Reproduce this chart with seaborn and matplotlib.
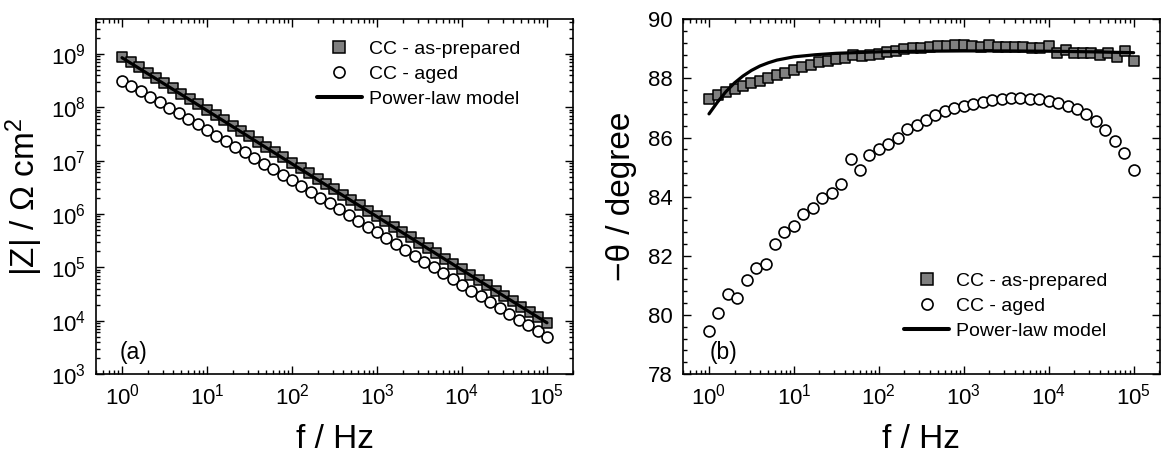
import numpy as np
import pandas as pd
import matplotlib
matplotlib.use("Agg")
import matplotlib.pyplot as plt
from matplotlib.ticker import MultipleLocator, AutoMinorLocator, LogLocator, NullFormatter
from matplotlib.lines import Line2D
import seaborn as sns

# ---------------- data ----------------
freq_prepared = [1, 1.26, 1.58, 2.00, 2.51, 3.16, 3.98, 5.01, 6.31, 7.94,
                 10, 12.6, 15.8, 20.0, 25.1, 31.6, 39.8, 50.1, 63.1, 79.4,
                 100, 126, 158, 200, 251, 316, 398, 501, 631, 794,
                 1000, 1259, 1585, 1995, 2512, 3162, 3981, 5012, 6310, 7943,
                 10000, 12589, 15849, 19953, 25119, 31623, 39811, 50119, 63096, 79433,
                 100000]
freq_aged = [1, 1.29, 1.67, 2.15, 2.78, 3.59, 4.64, 5.99, 7.74,
             10, 12.9, 16.7, 21.5, 27.8, 35.9, 46.4, 59.9, 77.4,
             100, 129, 167, 215, 278, 359, 464, 599, 774,
             1000, 1292, 1668, 2154, 2783, 3594, 4642, 5995, 7743,
             10000, 12915, 16681, 21544, 27826, 35938, 46416, 59948, 77426,
             100000]

# log10 |Z| (Ohm cm^2)
logZ_prepared = [8.950, 8.851, 8.751, 8.652, 8.552, 8.453, 8.353, 8.254, 8.154, 8.055,
                 7.955, 7.856, 7.756, 7.657, 7.557, 7.458, 7.358, 7.259, 7.159, 7.060,
                 6.960, 6.860, 6.760, 6.660, 6.560, 6.460, 6.360, 6.260, 6.160, 6.060,
                 5.960, 5.860, 5.760, 5.660, 5.560, 5.460, 5.360, 5.260, 5.160, 5.060,
                 4.960, 4.860, 4.760, 4.660, 4.560, 4.460, 4.360, 4.260, 4.160, 4.060,
                 3.960]
logZ_aged = [8.500, 8.400, 8.300, 8.200, 8.100, 7.995, 7.890, 7.785, 7.680,
             7.575, 7.470, 7.365, 7.260, 7.155, 7.050, 6.945, 6.840, 6.735,
             6.630, 6.525, 6.416, 6.307, 6.198, 6.089, 5.980, 5.871, 5.762,
             5.653, 5.544, 5.435, 5.326, 5.217, 5.108, 4.999, 4.890, 4.781,
             4.672, 4.563, 4.454, 4.345, 4.236, 4.128, 4.020, 3.913, 3.807,
             3.700]

# -theta (degree)
theta_prepared = [87.30, 87.43, 87.55, 87.65, 87.74, 87.83, 87.92, 88.00, 88.10, 88.18,
                  88.27, 88.37, 88.46, 88.54, 88.60, 88.64, 88.70, 88.80, 88.75, 88.80,
                  88.84, 88.88, 88.94, 89.00, 89.02, 89.04, 89.06, 89.09, 89.11, 89.12,
                  89.12, 89.09, 89.06, 89.14, 89.06, 89.05, 89.05, 89.05, 89.03, 89.03,
                  89.09, 88.86, 88.97, 88.86, 88.86, 88.85, 88.78, 88.86, 88.72, 88.92,
                  88.58]
theta_aged = [79.47, 80.07, 80.71, 80.57, 81.17, 81.59, 81.72, 82.40, 82.79,
              83.00, 83.40, 83.60, 83.97, 84.14, 84.42, 85.27, 84.90, 85.40,
              85.60, 85.77, 85.98, 86.28, 86.42, 86.59, 86.75, 86.89, 87.00,
              87.06, 87.14, 87.20, 87.26, 87.30, 87.33, 87.33, 87.32, 87.30,
              87.25, 87.17, 87.06, 86.95, 86.78, 86.55, 86.27, 85.88, 85.48,
              84.90]

# power-law model
model_freq_Z = [1, 10, 100, 1000, 10000, 100000]
model_logZ = [8.93, 7.94, 6.94, 5.95, 4.95, 3.96]
model_freq_theta = [1, 1.26, 1.58, 2.0, 2.51, 3.16, 3.98, 5.01, 6.31, 10, 17.8, 31.6,
                    100, 316, 1000, 3162, 10000, 31623, 100000]
model_theta = [86.80, 87.20, 87.55, 87.85, 88.08, 88.27, 88.42, 88.53, 88.62, 88.73, 88.80, 88.85,
               88.90, 88.92, 88.93, 88.93, 88.92, 88.90, 88.87]

label_prep = "CC - as-prepared"
label_aged = "CC - aged"
label_model = "Power-law model"

# ---------------- style ----------------
sns.set_theme(style="ticks")
plt.rcParams["font.family"] = ["Liberation Sans", "DejaVu Sans"]
plt.rcParams["mathtext.fontset"] = "custom"
plt.rcParams["mathtext.rm"] = "Liberation Sans"
plt.rcParams["mathtext.it"] = "Liberation Sans:italic"
plt.rcParams["mathtext.bf"] = "Liberation Sans:bold"
plt.rcParams["axes.unicode_minus"] = True
for k in ("text.color", "axes.labelcolor", "xtick.color", "ytick.color", "axes.edgecolor"):
    plt.rcParams[k] = "black"

fig = plt.figure(figsize=(11.61, 4.53), dpi=100)
ax1 = fig.add_axes([0.0824, 0.1744, 0.4114, 0.7830])
ax2 = fig.add_axes([0.5880, 0.1744, 0.4111, 0.7830])

gray = "#808080"
msz = 62
lw_model = 2.3

df_prep = pd.DataFrame({"f": freq_prepared, "Z": np.power(10.0, logZ_prepared), "theta": theta_prepared})
df_aged = pd.DataFrame({"f": freq_aged, "Z": np.power(10.0, logZ_aged), "theta": theta_aged})
df_mZ = pd.DataFrame({"f": model_freq_Z, "Z": np.power(10.0, model_logZ)})
df_mT = pd.DataFrame({"f": model_freq_theta, "theta": model_theta})

# panel (a)
sns.scatterplot(data=df_aged, x="f", y="Z", ax=ax1, marker="o", s=msz, color="white",
                edgecolor="black", linewidth=1.2, zorder=3, legend=False)
sns.scatterplot(data=df_prep, x="f", y="Z", ax=ax1, marker="s", s=msz, color=gray,
                edgecolor="black", linewidth=1.1, zorder=4, legend=False)
sns.lineplot(data=df_mZ, x="f", y="Z", ax=ax1, color="black", linewidth=lw_model, zorder=5)

# panel (b)
sns.scatterplot(data=df_aged, x="f", y="theta", ax=ax2, marker="o", s=msz, color="white",
                edgecolor="black", linewidth=1.2, zorder=3, legend=False)
sns.scatterplot(data=df_prep, x="f", y="theta", ax=ax2, marker="s", s=msz, color=gray,
                edgecolor="black", linewidth=1.1, zorder=4, legend=False)
sns.lineplot(data=df_mT, x="f", y="theta", ax=ax2, color="black", linewidth=lw_model, zorder=5)

xlim = (10 ** -0.31, 10 ** 5.31)
for ax in (ax1, ax2):
    ax.set_xscale("log")
    ax.set_xlim(*xlim)
    ax.xaxis.set_major_locator(LogLocator(base=10, numticks=10))
    ax.xaxis.set_minor_locator(LogLocator(base=10, subs=np.arange(2, 10), numticks=20))
    ax.xaxis.set_minor_formatter(NullFormatter())
    ax.tick_params(which="both", direction="in", top=True, right=True, width=1.0,
                   colors="black", labelsize=16)
    ax.tick_params(which="major", length=6, pad=7)
    ax.tick_params(which="minor", length=3)
    for sp in ax.spines.values():
        sp.set_linewidth(1.2)
        sp.set_color("black")
    ax.set_xlabel("f / Hz", fontsize=24, labelpad=10)

ax1.set_yscale("log")
ax1.set_ylim(1e3, 10 ** 9.65)
ax1.yaxis.set_major_locator(LogLocator(base=10, numticks=12))
ax1.yaxis.set_minor_locator(LogLocator(base=10, subs=np.arange(2, 10), numticks=20))
ax1.yaxis.set_minor_formatter(NullFormatter())
ax1.set_ylabel("|Z| / \u03a9 cm$^{2}$", fontsize=24, labelpad=4)

ax2.set_ylim(78, 90)
ax2.yaxis.set_major_locator(MultipleLocator(2))
ax2.yaxis.set_minor_locator(AutoMinorLocator(5))
ax2.set_ylabel("\u2212\u03b8 / degree", fontsize=24, labelpad=8)

ax1.text(0.051, 0.062, "(a)", transform=ax1.transAxes, fontsize=16.5, va="center", ha="left")
ax2.text(0.057, 0.062, "(b)", transform=ax2.transAxes, fontsize=16.5, va="center", ha="left")

handles = [
    Line2D([], [], linestyle="none", marker="s", markersize=8, markerfacecolor=gray,
           markeredgecolor="black", markeredgewidth=1.1),
    Line2D([], [], linestyle="none", marker="o", markersize=8, markerfacecolor="white",
           markeredgecolor="black", markeredgewidth=1.2),
    Line2D([], [], color="black", linewidth=lw_model + 0.6),
]
labels = [label_prep, label_aged, label_model]
leg_kw = dict(frameon=False, fontsize=14, handlelength=2.3, handletextpad=0.36,
              labelspacing=0.38, borderaxespad=0.0)
ax1.legend(handles, labels, loc="upper right", bbox_to_anchor=(0.905, 0.962), **leg_kw)
ax2.legend(handles, labels, loc="lower right", bbox_to_anchor=(0.906, 0.075), **leg_kw)

fig.savefig("out.png", dpi=100)
